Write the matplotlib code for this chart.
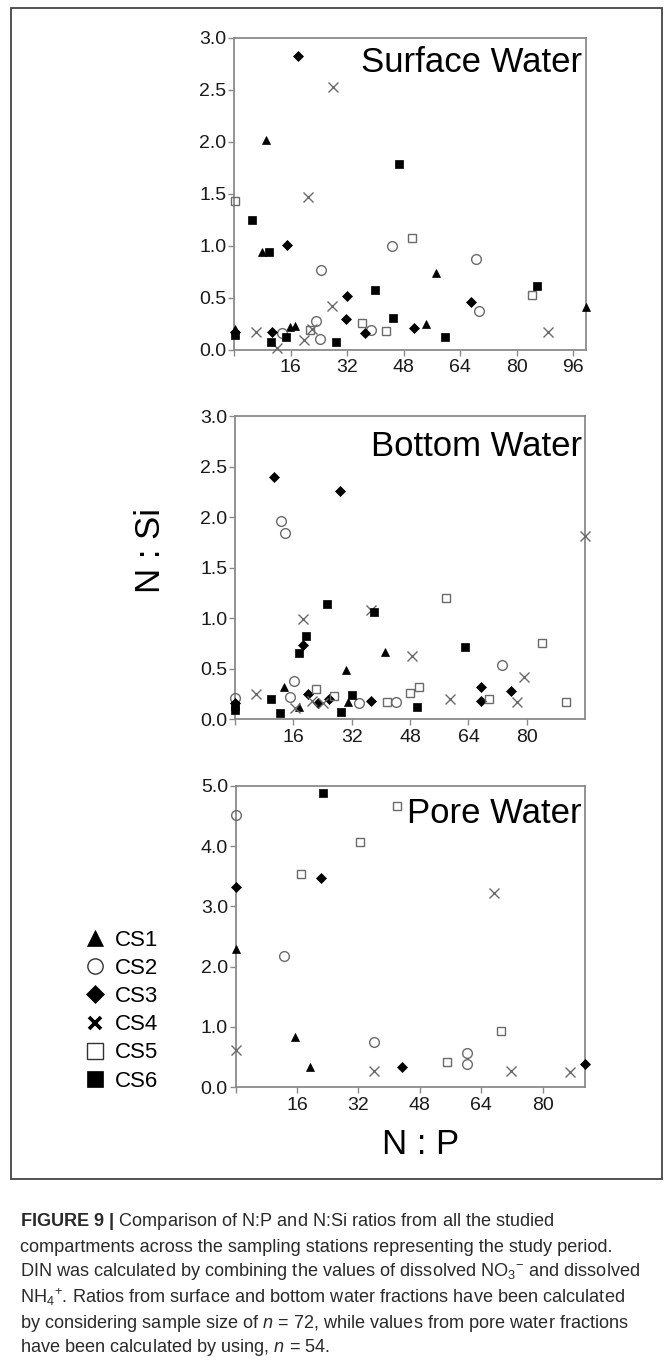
import matplotlib
matplotlib.use("Agg")
import matplotlib.pyplot as plt
from matplotlib.lines import Line2D
from matplotlib.patches import Rectangle

plt.rcParams['font.family'] = ['Liberation Sans', 'DejaVu Sans']
plt.rcParams['mathtext.fontset'] = 'custom'
plt.rcParams['mathtext.rm'] = 'Liberation Sans'
plt.rcParams['mathtext.it'] = 'Liberation Sans:italic'
plt.rcParams['mathtext.bf'] = 'Liberation Sans:bold'

# ---------------- data ----------------
stations = ["CS1", "CS2", "CS3", "CS4", "CS5", "CS6"]

# Surface water (N:P, N:Si)
sw_cs1_np = [0.3, 8.0, 9.0, 15.8, 17.2, 54.4, 57.1, 99.5]
sw_cs1_nsi = [0.20, 0.94, 2.02, 0.22, 0.23, 0.245, 0.74, 0.41]
sw_cs2_np = [13.5, 23.1, 24.2, 24.5, 38.7, 44.7, 68.5, 69.3]
sw_cs2_nsi = [0.155, 0.27, 0.10, 0.77, 0.19, 1.00, 0.87, 0.37]
sw_cs3_np = [0.3, 10.8, 14.9, 18.1, 31.7, 32.1, 37.2, 50.8, 67.1]
sw_cs3_nsi = [0.17, 0.165, 1.01, 2.83, 0.29, 0.52, 0.16, 0.21, 0.46]
sw_cs4_np = [6.3, 12.3, 19.9, 20.9, 22.0, 27.6, 28.0, 88.8]
sw_cs4_nsi = [0.17, 0.01, 0.09, 1.47, 0.20, 0.42, 2.53, 0.17]
sw_cs5_np = [0.3, 21.4, 36.3, 42.9, 50.4, 84.2]
sw_cs5_nsi = [1.43, 0.19, 0.26, 0.175, 1.07, 0.525]
sw_cs6_np = [0.3, 5.0, 10.0, 10.6, 14.8, 28.9, 40.0, 44.9, 46.8, 59.6, 85.7]
sw_cs6_nsi = [0.14, 1.25, 0.94, 0.07, 0.12, 0.07, 0.57, 0.30, 1.79, 0.12, 0.61]

# Bottom water
bw_cs1_np = [13.4, 17.5, 30.4, 30.9, 41.1]
bw_cs1_nsi = [0.32, 0.12, 0.49, 0.175, 0.67]
bw_cs2_np = [0.0, 12.6, 13.6, 15.1, 16.2, 34.0, 44.1, 73.3]
bw_cs2_nsi = [0.21, 1.96, 1.85, 0.22, 0.38, 0.16, 0.175, 0.54]
bw_cs3_np = [0.0, 10.7, 18.7, 19.9, 22.7, 25.9, 28.8, 37.3, 67.3, 67.5, 75.7]
bw_cs3_nsi = [0.16, 2.40, 0.735, 0.25, 0.16, 0.20, 2.26, 0.18, 0.185, 0.32, 0.28]
bw_cs4_np = [5.7, 16.5, 18.7, 21.0, 24.0, 37.3, 48.6, 59.0, 77.3, 79.2, 95.8]
bw_cs4_nsi = [0.25, 0.11, 0.99, 0.18, 0.165, 1.08, 0.63, 0.20, 0.175, 0.42, 1.82]
bw_cs5_np = [22.1, 27.1, 41.6, 48.1, 50.3, 57.8, 69.7, 84.1, 90.7]
bw_cs5_nsi = [0.30, 0.235, 0.175, 0.26, 0.32, 1.20, 0.20, 0.76, 0.175]
bw_cs6_np = [0.0, 0.0, 9.8, 12.3, 17.5, 19.4, 25.3, 29.1, 32.0, 38.2, 50.0, 63.1]
bw_cs6_nsi = [0.13, 0.09, 0.20, 0.065, 0.66, 0.825, 1.14, 0.075, 0.24, 1.06, 0.125, 0.72]

# Pore water
pw_cs1_np = [0.1, 15.6, 19.5]
pw_cs1_nsi = [2.30, 0.835, 0.34]
pw_cs2_np = [0.1, 12.7, 36.1, 60.4, 60.4]
pw_cs2_nsi = [4.51, 2.18, 0.75, 0.56, 0.38]
pw_cs3_np = [0.1, 22.3, 43.4, 91.0]
pw_cs3_nsi = [3.32, 3.48, 0.33, 0.38]
pw_cs4_np = [0.1, 36.0, 67.4, 71.7, 87.2]
pw_cs4_nsi = [0.615, 0.27, 3.23, 0.27, 0.245]
pw_cs5_np = [17.1, 32.5, 42.0, 55.1, 69.1]
pw_cs5_nsi = [3.53, 4.07, 4.66, 0.42, 0.93]
pw_cs6_np = [22.8]
pw_cs6_nsi = [4.89]

panel_titles = ["Surface Water", "Bottom Water", "Pore Water"]
xticks_sw = [0, 16, 32, 48, 64, 80, 96]
xticks_bw = [0, 16, 32, 48, 64, 80]
xticks_pw = [0, 16, 32, 48, 64, 80]
yticks_sw = [0.0, 0.5, 1.0, 1.5, 2.0, 2.5, 3.0]
yticks_pw = [0.0, 1.0, 2.0, 3.0, 4.0, 5.0]

# ---------------- styles ----------------
GRAY = '#6a6a6a'
styles = {
    "CS1": dict(marker='^', ms=6.2, mfc='black', mec='black', mew=0.5),
    "CS2": dict(marker='o', ms=7.0, mfc='none', mec=GRAY, mew=1.0),
    "CS3": dict(marker='D', ms=5.0, mfc='black', mec='black', mew=0.5),
    "CS4": dict(marker='x', ms=7.5, mfc='none', mec=GRAY, mew=1.0),
    "CS5": dict(marker='s', ms=6.2, mfc='none', mec=GRAY, mew=1.0),
    "CS6": dict(marker='s', ms=6.0, mfc='black', mec='black', mew=0.5),
}

W, H = 670, 1369
fig = plt.figure(figsize=(W / 100, H / 100), dpi=100)


def box(l, r, t, b):
    return [l / W, 1 - b / H, (r - l) / W, (b - t) / H]


panels = [
    (box(234, 586, 38, 349.5), (0, 99.6), (0, 3.0), xticks_sw, yticks_sw,
     [(sw_cs1_np, sw_cs1_nsi), (sw_cs2_np, sw_cs2_nsi), (sw_cs3_np, sw_cs3_nsi),
      (sw_cs4_np, sw_cs4_nsi), (sw_cs5_np, sw_cs5_nsi), (sw_cs6_np, sw_cs6_nsi)],
     panel_titles[0], (0.989, 0.891)),
    (box(235, 584.5, 416.5, 719.3), (0, 95.8), (0, 3.0), xticks_bw, yticks_sw,
     [(bw_cs1_np, bw_cs1_nsi), (bw_cs2_np, bw_cs2_nsi), (bw_cs3_np, bw_cs3_nsi),
      (bw_cs4_np, bw_cs4_nsi), (bw_cs5_np, bw_cs5_nsi), (bw_cs6_np, bw_cs6_nsi)],
     panel_titles[1], (0.992, 0.870)),
    (box(235.5, 585, 786, 1087), (0, 91.0), (0, 5.0), xticks_pw, yticks_pw,
     [(pw_cs1_np, pw_cs1_nsi), (pw_cs2_np, pw_cs2_nsi), (pw_cs3_np, pw_cs3_nsi),
      (pw_cs4_np, pw_cs4_nsi), (pw_cs5_np, pw_cs5_nsi), (pw_cs6_np, pw_cs6_nsi)],
     panel_titles[2], (0.991, 0.876)),
]

for rect, xl, yl, xt, yt, series, title, tpos in panels:
    ax = fig.add_axes(rect)
    for name, (xs, ys) in zip(stations, series):
        ax.plot(xs, ys, linestyle='none', clip_on=False, zorder=3, **styles[name])
    ax.set_xlim(*xl)
    ax.set_ylim(*yl)
    ax.set_xticks(xt)
    ax.set_xticklabels(['' if v == 0 else str(v) for v in xt])
    ax.set_yticks(yt)
    ax.set_yticklabels(['%.1f' % v for v in yt])
    for sp in ax.spines.values():
        sp.set_color('#8a8a8a')
        sp.set_linewidth(1.3)
    ax.tick_params(axis='both', direction='out', length=4, width=1.0,
                   color='#8a8a8a', labelsize=14, labelcolor='#1a1a1a')
    ax.tick_params(axis='y', pad=1.5)
    ax.tick_params(axis='x', pad=3)
    ax.text(tpos[0], tpos[1], title, transform=ax.transAxes, ha='right',
            va='baseline', fontsize=25, color='black', zorder=4)

# axis labels
fig.text(150 / W, 1 - 551 / H, "N : Si", rotation=90, ha='center', va='center',
         fontsize=25, color='black')
fig.text(421 / W, 1 - 1144 / H, "N : P", ha='center', va='center',
         fontsize=25, color='black')

# legend
leg_styles = {
    "CS1": dict(marker='^', ms=12, mfc='black', mec='black', mew=0.5),
    "CS2": dict(marker='o', ms=11, mfc='none', mec='#333333', mew=1.0),
    "CS3": dict(marker='D', ms=9, mfc='black', mec='black', mew=0.5),
    "CS4": dict(marker='x', ms=9, mfc='none', mec='black', mew=2.6),
    "CS5": dict(marker='s', ms=11, mfc='none', mec='#333333', mew=1.0),
    "CS6": dict(marker='s', ms=11, mfc='black', mec='black', mew=0.5),
}
handles = [Line2D([], [], linestyle='none', **leg_styles[s]) for s in stations]
fig.legend(handles, stations, loc='upper left',
           bbox_to_anchor=(84 / W, 1 - 930 / H), frameon=False,
           fontsize=16, handlelength=1.0, handletextpad=0.4,
           labelspacing=0.32, borderpad=0, borderaxespad=0)

# frame around figure
fig.patches.append(Rectangle((11 / W, 1 - 1179 / H), (662 - 11) / W, (1179 - 8) / H,
                             transform=fig.transFigure, fill=False,
                             edgecolor='#444444', linewidth=1.3))

# caption
cap_lines = [
    r"$\mathbf{FIGURE\ 9\ |}$ Comparison of N:P and N:Si ratios from all the studied",
    "compartments across the sampling stations representing the study period.",
    r"DIN was calculated by combining the values of dissolved NO$_3$$^{-}$ and dissolved",
    r"NH$_4$$^{+}$. Ratios from surface and bottom water fractions have been calculated",
    r"by considering sample size of $n$ = 72, while values from pore water fractions",
    r"have been calculated by using, $n$ = 54.",
]
cap_y = [1222, 1247, 1272, 1297, 1323, 1348]
for line, yy in zip(cap_lines, cap_y):
    fig.text(20 / W, 1 - yy / H, line, ha='left', va='center', fontsize=13.1,
             color='#2a2a2a')

fig.savefig("out.png", dpi=100, facecolor='white')
